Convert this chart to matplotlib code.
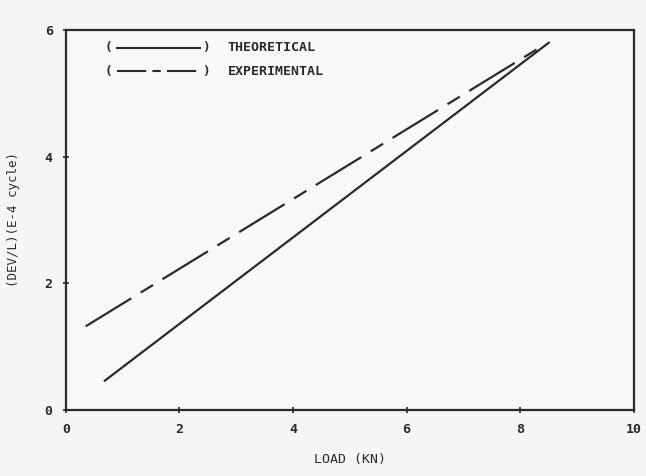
import matplotlib.pyplot as plt

# load (kN) vs crack growth rate, end points of the two fitted lines
load_theo = [0.67, 8.52]
rate_theo = [0.45, 5.81]
load_exp = [0.35, 8.45]
rate_exp = [1.32, 5.78]

xticks = [0, 2, 4, 6, 8, 10]
yticks = [0, 2, 4, 6]

plt.rcParams['font.family'] = 'DejaVu Sans Mono'
ink = '#2a2a2a'

fig = plt.figure(figsize=(6.46, 4.76), dpi=100)
fig.patch.set_facecolor('#f5f5f5')
ax = fig.add_axes([0.102, 0.139, 0.879, 0.798])
ax.set_facecolor('#f8f8f8')

ax.plot(load_theo, rate_theo, color=ink, lw=1.6, solid_capstyle='butt')
ax.plot(load_exp, rate_exp, color=ink, lw=1.6, dashes=(24, 5, 6.5, 5))

ax.set_xlim(0, 10)
ax.set_ylim(0, 6)
ax.set_xticks(xticks)
ax.set_yticks(yticks)
ax.set_xticklabels([str(v) for v in xticks], fontsize=9.5, color=ink,
                   fontweight='bold')
ax.set_yticklabels([str(v) for v in yticks], fontsize=9.5, color=ink,
                   fontweight='bold')
ax.tick_params(direction='inout', length=5, width=1.2, colors=ink, pad=7)
for s in ax.spines.values():
    s.set_linewidth(1.6)
    s.set_color(ink)

ax.set_xlabel('LOAD (KN)', fontsize=9.5, color=ink, labelpad=12)
ax.set_ylabel('(DEV/L)(E-4 cycle)', fontsize=9, color=ink, labelpad=18)

# hand-drawn style key in the upper left corner
rows = [(0.953, 'THEORETICAL', '-'), (0.892, 'EXPERIMENTAL', 'dashdot')]
for yy, name, style in rows:
    ax.text(0.074, yy, '(', transform=ax.transAxes, fontsize=9, color=ink,
            va='center', ha='center', fontweight='bold')
    if style == '-':
        ax.plot([0.09, 0.236], [yy, yy], transform=ax.transAxes, color=ink,
                lw=1.5)
    else:
        ax.plot([0.09, 0.236], [yy, yy], transform=ax.transAxes, color=ink,
                lw=1.5, dashes=(14, 3, 4, 3))
    ax.text(0.246, yy, ')', transform=ax.transAxes, fontsize=9, color=ink,
            va='center', ha='center', fontweight='bold')
    ax.text(0.285, yy, name, transform=ax.transAxes, fontsize=9.5, color=ink,
            va='center', ha='left', fontweight='bold')

fig.savefig('out.png', dpi=100, facecolor=fig.get_facecolor())
